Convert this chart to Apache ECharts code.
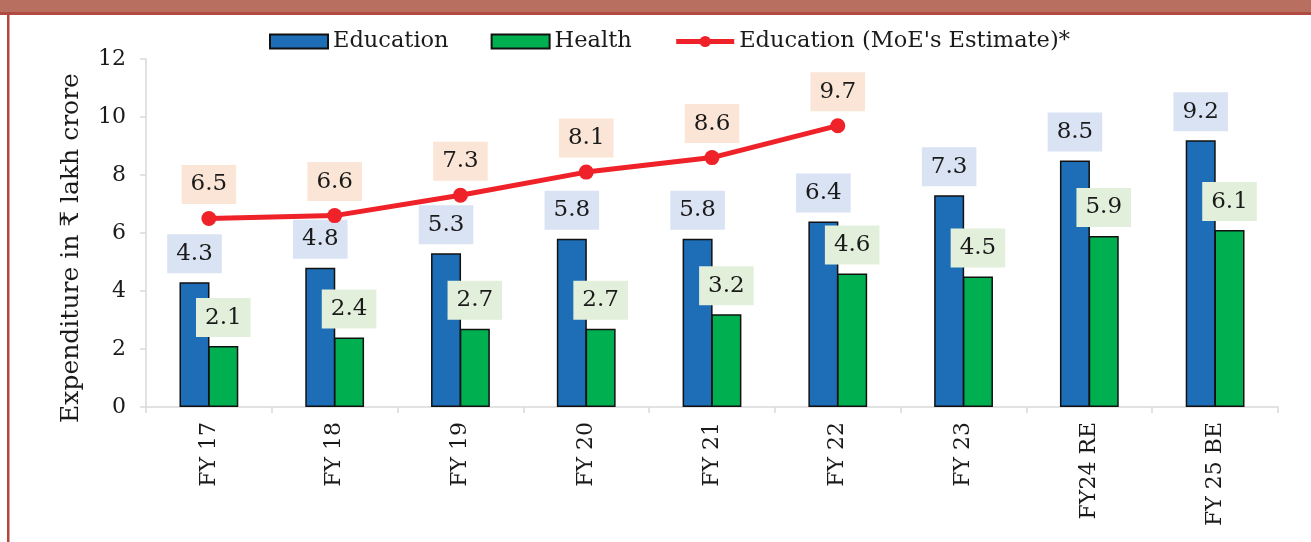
<!DOCTYPE html>
<html>
<head>
<meta charset="utf-8">
<title>Expenditure on Education and Health</title>
<script src="https://cdn.jsdelivr.net/npm/echarts@6/dist/echarts.min.js"></script>
<style>
  html, body { margin: 0; padding: 0; background: #ffffff; }
  #chart { width: 1311px; height: 542px; }
</style>
</head>
<body>
<div id="chart"></div>
<script>
// Fiscal years shown on the category axis
const categories = ['FY 17', 'FY 18', 'FY 19', 'FY 20', 'FY 21', 'FY 22', 'FY 23', 'FY24 RE', 'FY 25 BE'];
// Expenditure in ₹ lakh crore
const educationValues = [4.3, 4.8, 5.3, 5.8, 5.8, 6.4, 7.3, 8.5, 9.2];
const healthValues = [2.1, 2.4, 2.7, 2.7, 3.2, 4.6, 4.5, 5.9, 6.1];
const moeEstimateValues = [6.5, 6.6, 7.3, 8.1, 8.6, 9.7, null, null, null];
// Value axis ticks
const yTicks = [0, 2, 4, 6, 8, 10, 12];

const FONT = '"DejaVu Serif", "Liberation Serif", serif';
const AXIS_GRAY = '#d9d9d9';
const RED = '#ee2228';

function boxLabel(bg, distance) {
  return {
    show: true,
    position: 'top',
    distance: distance,
    fontFamily: FONT,
    fontSize: 23,
    color: '#1a1a1a',
    backgroundColor: bg,
    padding: [8, 9, 8, 9],
    formatter: p => (p.value == null ? '' : p.value.toFixed(1))
  };
}

const chart = echarts.init(document.getElementById('chart'), null, { renderer: 'canvas' });

chart.setOption({
  animation: false,
  backgroundColor: '#ffffff',
  textStyle: { fontFamily: FONT },
  graphic: [
    { type: 'rect', left: 0, top: 0, shape: { width: 1311, height: 13 }, style: { fill: '#b96f5f' }, silent: true },
    { type: 'rect', left: 0, top: 12, shape: { width: 1311, height: 3 }, style: { fill: '#b04b42' }, silent: true },
    { type: 'rect', left: 7, top: 14, shape: { width: 2.5, height: 528 }, style: { fill: '#b3473f' }, silent: true }
  ],
  legend: {
    top: 25,
    left: 264,
    itemWidth: 58,
    itemHeight: 14,
    itemGap: 42,
    textStyle: { fontFamily: FONT, fontSize: 22.5, color: '#1a1a1a' },
    data: [
      { name: 'Education', icon: 'rect' },
      { name: 'Health', icon: 'rect' },
      { name: "Education (MoE's Estimate)*", lineStyle: { width: 5, color: RED } }
    ]
  },
  grid: { left: 146, right: 33, top: 59, bottom: 135, containLabel: false },
  xAxis: {
    type: 'category',
    data: categories,
    axisLine: { show: true, lineStyle: { color: AXIS_GRAY, width: 1.5 } },
    axisTick: { show: true, length: 6, lineStyle: { color: AXIS_GRAY, width: 1.5 } },
    axisLabel: {
      rotate: 90,
      margin: 15,
      fontFamily: FONT,
      fontSize: 22,
      color: '#1a1a1a'
    }
  },
  yAxis: {
    type: 'value',
    min: yTicks[0],
    max: yTicks[yTicks.length - 1],
    interval: 2,
    name: 'Expenditure in ₹ lakh crore',
    nameLocation: 'middle',
    nameGap: 62,
    nameTextStyle: { fontFamily: FONT, fontSize: 25, color: '#1a1a1a', padding: [0, 30, 0, 0] },
    axisLine: { show: true, lineStyle: { color: AXIS_GRAY, width: 1.5 } },
    axisTick: { show: true, length: 6, lineStyle: { color: AXIS_GRAY, width: 1.5 } },
    splitLine: { show: false },
    axisLabel: { margin: 20, fontFamily: FONT, fontSize: 22, color: '#1a1a1a' }
  },
  series: [
    {
      name: 'Education',
      type: 'bar',
      data: educationValues,
      barWidth: 30,
      barGap: '-4%',
      itemStyle: { color: '#1d6db7', borderColor: '#111111', borderWidth: 1.5 },
      label: boxLabel('#dae3f3', 9),
      z: 2
    },
    {
      name: 'Health',
      type: 'bar',
      data: healthValues,
      barWidth: 30,
      barGap: '-4%',
      itemStyle: { color: '#00b050', borderColor: '#111111', borderWidth: 1.5 },
      label: boxLabel('#e2efda', 9),
      z: 2
    },
    {
      name: "Education (MoE's Estimate)*",
      type: 'line',
      data: moeEstimateValues,
      symbol: 'circle',
      symbolSize: 15,
      connectNulls: false,
      lineStyle: { color: RED, width: 5 },
      itemStyle: { color: RED },
      label: boxLabel('#fbe5d6', 7),
      z: 3
    }
  ]
});
</script>
</body>
</html>
